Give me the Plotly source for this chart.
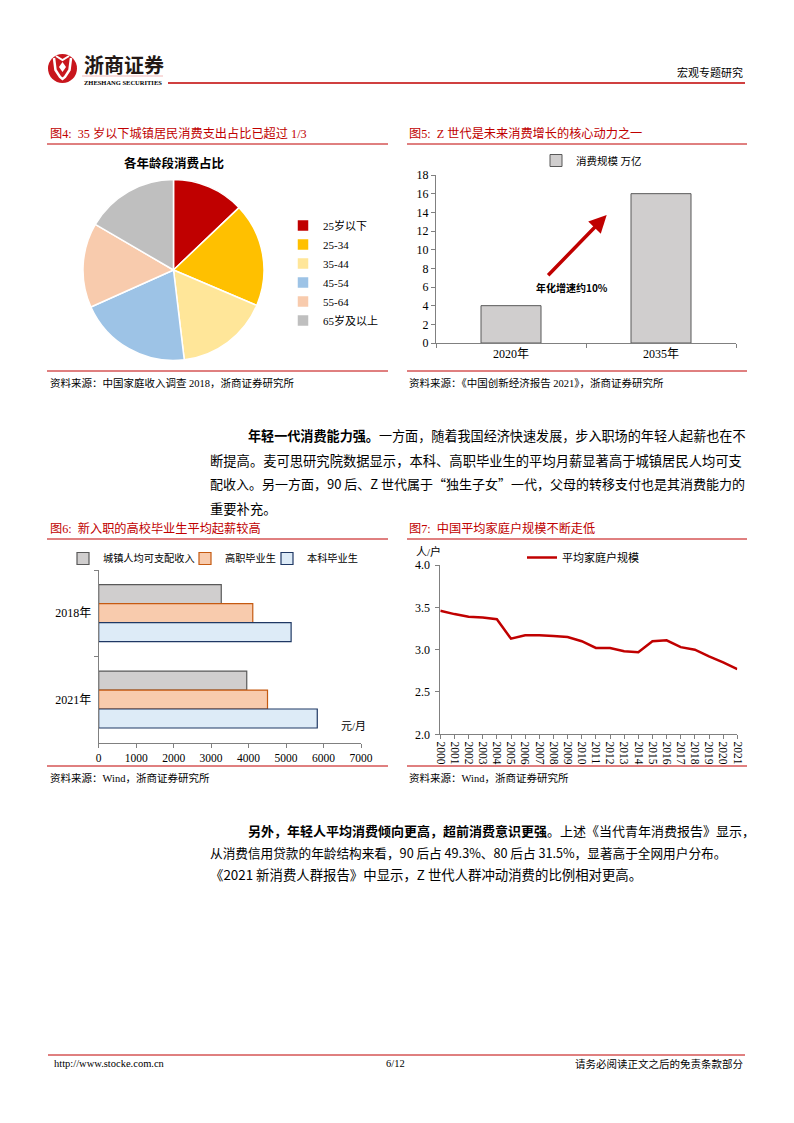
import plotly.graph_objects as go

# ---------------- data ----------------
age_groups = ["25岁以下", "25-34", "35-44", "45-54", "55-64", "65岁及以上"]
age_shares = [12.9, 18.5, 16.7, 20.2, 15.1, 16.6]
age_colors = ["#C00000", "#FFC000", "#FFE699", "#9DC3E6", "#F8CBAD", "#BFBFBF"]

z_years = ["2020年", "2035年"]
z_scale = [4.0, 16.0]

salary_years = ["2018年", "2021年"]
urban_income = [3271, 3951]
vocational = [4112, 4505]
bachelor = [5135, 5833]

hh_years = list(range(2000, 2022))
hh_size = [3.46, 3.42, 3.39, 3.38, 3.36, 3.13, 3.17, 3.17, 3.16, 3.15, 3.10,
           3.02, 3.02, 2.98, 2.97, 3.10, 3.11, 3.03, 3.00, 2.92, 2.85, 2.77]

# ---------------- page geometry ----------------
OFF = 8
W, H = 794 - 2 * OFF, 1123 - 2 * OFF
RED = "#C00000"
SERIF = "Liberation Serif, Noto Sans CJK SC"
CJK = "Noto Sans CJK SC"


def X(px):
    return (px - OFF) / W


def Y(py):
    return 1 - (py - OFF) / H


fig = go.Figure()

# Pie (Fig 4)
fig.add_trace(go.Pie(
    labels=age_groups, values=age_shares, sort=False, direction="clockwise",
    marker=dict(colors=age_colors, line=dict(color="white", width=1.5)),
    textinfo="none", domain=dict(x=[X(83), X(264)], y=[Y(360.5), Y(179.5)]),
    legend="legend"))

# Bar (Fig 5)
fig.add_trace(go.Bar(
    x=z_years, y=z_scale, name="消费规模 万亿", width=0.4,
    marker=dict(color="#D0CECE", line=dict(color="#595959", width=1)),
    xaxis="x", yaxis="y", legend="legend2"))

# Horizontal bars (Fig 6) - each series has its own legend box
for name, vals, fill, edge, leg in [
        ("城镇人均可支配收入", urban_income, "#D0CECE", "#595959", "legend3"),
        ("高职毕业生", vocational, "#F8CBAD", "#C55A11", "legend5"),
        ("本科毕业生", bachelor, "#DDEBF7", "#1F3864", "legend6")]:
    fig.add_trace(go.Bar(
        y=salary_years, x=vals, name=name, orientation="h",
        marker=dict(color=fill, line=dict(color=edge, width=1.2)),
        xaxis="x2", yaxis="y2", legend=leg))

# Line (Fig 7)
fig.add_trace(go.Scatter(
    x=hh_years, y=hh_size, mode="lines", name="平均家庭户规模",
    line=dict(color=RED, width=2.5), xaxis="x3", yaxis="y3", legend="legend4"))

axis_common = dict(showline=True, linecolor="#808080", linewidth=1, ticks="outside",
                   ticklen=4, tickcolor="#808080", showgrid=False, zeroline=False,
                   automargin=False,
                   tickfont=dict(family=SERIF, size=12, color="black"))
small_tick = {**axis_common, "tickfont": dict(family=SERIF, size=11.5, color="black")}


def leg(px, py, size=10.5, orient="h"):
    return dict(x=X(px), y=Y(py), xanchor="left", yanchor="top", orientation=orient,
                font=dict(family=SERIF, size=size), bgcolor="rgba(0,0,0,0)")


fig.update_layout(
    width=W, height=H, autosize=False,
    margin=dict(l=0, r=0, t=0, b=0, pad=0, autoexpand=False),
    paper_bgcolor="white", plot_bgcolor="white",
    font=dict(family=SERIF, color="black"),
    barmode="group", bargap=0.34, bargroupgap=0,
    xaxis=dict(domain=[X(436), X(736)], anchor="y", type="category",
               tickson="boundaries", **axis_common),
    yaxis=dict(domain=[Y(343), Y(175)], anchor="x", range=[0, 18], dtick=2,
               **axis_common),
    xaxis2=dict(domain=[X(98.7), X(361)], anchor="y2", range=[0, 7000], dtick=1000,
                **small_tick),
    yaxis2=dict(domain=[Y(742.7), Y(570)], anchor="x2", type="category",
                autorange="reversed", tickson="boundaries", ticklabelstandoff=4,
                **axis_common),
    xaxis3=dict(domain=[X(440.3), X(737.3)], anchor="y3", range=[2000, 2021],
                tickvals=hh_years, tickangle=90, **small_tick),
    yaxis3=dict(domain=[Y(734.3), Y(565)], anchor="x3", range=[2, 4], dtick=0.5,
                tickformat=".1f", ticklabelstandoff=3, **axis_common),
    legend=leg(283, 211, size=11, orient="v"),
    legend2=leg(536, 146, size=10.5),
    legend3=leg(63, 544, size=10.2),
    legend5=leg(185, 544, size=10.2),
    legend6=leg(267, 544, size=10.2),
    legend4=leg(522, 543, size=11),
    showlegend=True,
)

annotations = []


def txt(px, py, text, size=11, color="black", xanchor="left", family=CJK):
    annotations.append(dict(x=X(px), y=Y(py), xref="paper", yref="paper", text=text,
                            showarrow=False, xanchor=xanchor, yanchor="middle",
                            font=dict(size=size, color=color, family=family)))


# header
txt(82, 65, "<b>浙商证券</b>", size=20, color="#231815")
txt(82, 82, "<b>ZHESHANG SECURITIES</b>", size=6.5, family=SERIF)
txt(745, 72, "宏观专题研究", size=11, xanchor="right")

# titles
txt(48, 133, "图4:  35 岁以下城镇居民消费支出占比已超过 1/3", size=12.2, color=RED, family=SERIF)
txt(407, 133, "图5:  Z 世代是未来消费增长的核心动力之一", size=12.2, color=RED, family=SERIF)
txt(48, 528, "图6:  新入职的高校毕业生平均起薪较高", size=12.2, color=RED, family=SERIF)
txt(407, 528, "图7:  中国平均家庭户规模不断走低", size=12.2, color=RED, family=SERIF)

# sources
txt(48, 383, "资料来源：中国家庭收入调查 2018，浙商证券研究所", size=10.5, family=SERIF)
txt(407, 383, "资料来源：《中国创新经济报告 2021》，浙商证券研究所", size=10.5, family=SERIF)
txt(48, 778, "资料来源：Wind，浙商证券研究所", size=10.5, family=SERIF)
txt(407, 778, "资料来源：Wind，浙商证券研究所", size=10.5, family=SERIF)

# chart inner texts
txt(174, 162, "<b>各年龄段消费占比</b>", size=12.5, xanchor="center")
txt(572, 288, "<b>年化增速约10%</b>", size=10, xanchor="center")
txt(353, 726, "元/月", size=11, xanchor="center", family=SERIF)
txt(428, 552, "人/户", size=11, xanchor="center", family=SERIF)

# paragraphs (x, y, text, font size)
para = [
    (246, 436, "<b>年轻一代消费能力强。</b>一方面，随着我国经济快速发展，步入职场的年轻人起薪也在不", 13.1),
    (208, 460, "断提高。麦可思研究院数据显示，本科、高职毕业生的平均月薪显著高于城镇居民人均可支", 13.3),
    (208, 484, "配收入。另一方面，90 后、Z 世代属于“独生子女”一代，父母的转移支付也是其消费能力的", 13),
    (208, 508, "重要补充。", 13.3),
    (246, 830, "<b>另外，年轻人平均消费倾向更高，超前消费意识更强</b>。上述《当代青年消费报告》显示，", 13),
    (208, 852, "从消费信用贷款的年龄结构来看，90 后占 49.3%、80 后占 31.5%，显著高于全网用户分布。", 12.65),
    (208, 874, "《2021 新消费人群报告》中显示，Z 世代人群冲动消费的比例相对更高。", 13.4),
]
for px, py, t, s in para:
    txt(px, py, t, size=s)

# footer
txt(52, 1063, "http://www.stocke.com.cn", size=10.5, family=SERIF)
txt(395, 1063, "6/12", size=10.5, xanchor="center", family=SERIF)
txt(745, 1063, "请务必阅读正文之后的免责条款部分", size=10.5, xanchor="right")

# arrow in fig 5
annotations.append(dict(x=X(606.7), y=Y(215), xref="paper", yref="paper", text="",
                        showarrow=True, ax=-60, ay=61.7, arrowhead=2, arrowsize=1,
                        arrowwidth=3.5, arrowcolor=RED))

fig.update_layout(annotations=annotations)

shapes = []


def hline(x0, x1, py, color=RED, width=1):
    shapes.append(dict(type="line", xref="paper", yref="paper", x0=X(x0), x1=X(x1),
                       y0=Y(py), y1=Y(py), line=dict(color=color, width=width)))


def path(points, close=False):
    s = "M " + " L ".join(f"{X(a):.5f},{Y(b):.5f}" for a, b in points)
    return s + (" Z" if close else "")


hline(168, 745, 83, width=1.5)
hline(82, 163, 76, color="#F2B8B8", width=1)
hline(47, 388, 144)
hline(47, 388, 371)
hline(407, 747, 144)
hline(407, 747, 371)
hline(47, 388, 539)
hline(47, 388, 766)
hline(407, 747, 539)
hline(407, 747, 766)
hline(48, 745, 1055)

# logo
shapes.append(dict(type="circle", xref="paper", yref="paper", x0=X(48), x1=X(77),
                   y0=Y(83), y1=Y(54), fillcolor="#C8161D", line=dict(width=0)))
shapes.append(dict(type="path", xref="paper", yref="paper",
                   path=path([(54, 58), (55.5, 70), (60, 77), (62.5, 79), (65, 77),
                              (69.5, 70), (71, 58)]),
                   line=dict(color="white", width=2.5)))
shapes.append(dict(type="path", xref="paper", yref="paper",
                   path=path([(62.5, 62), (66, 67), (62.5, 72), (59, 67)], close=True),
                   fillcolor="white", line=dict(width=0)))
shapes.append(dict(type="path", xref="paper", yref="paper",
                   path=path([(56, 56), (62.5, 60), (69, 56)]),
                   line=dict(color="white", width=2)))

fig.update_layout(shapes=shapes)

fig.write_html("out.html")
